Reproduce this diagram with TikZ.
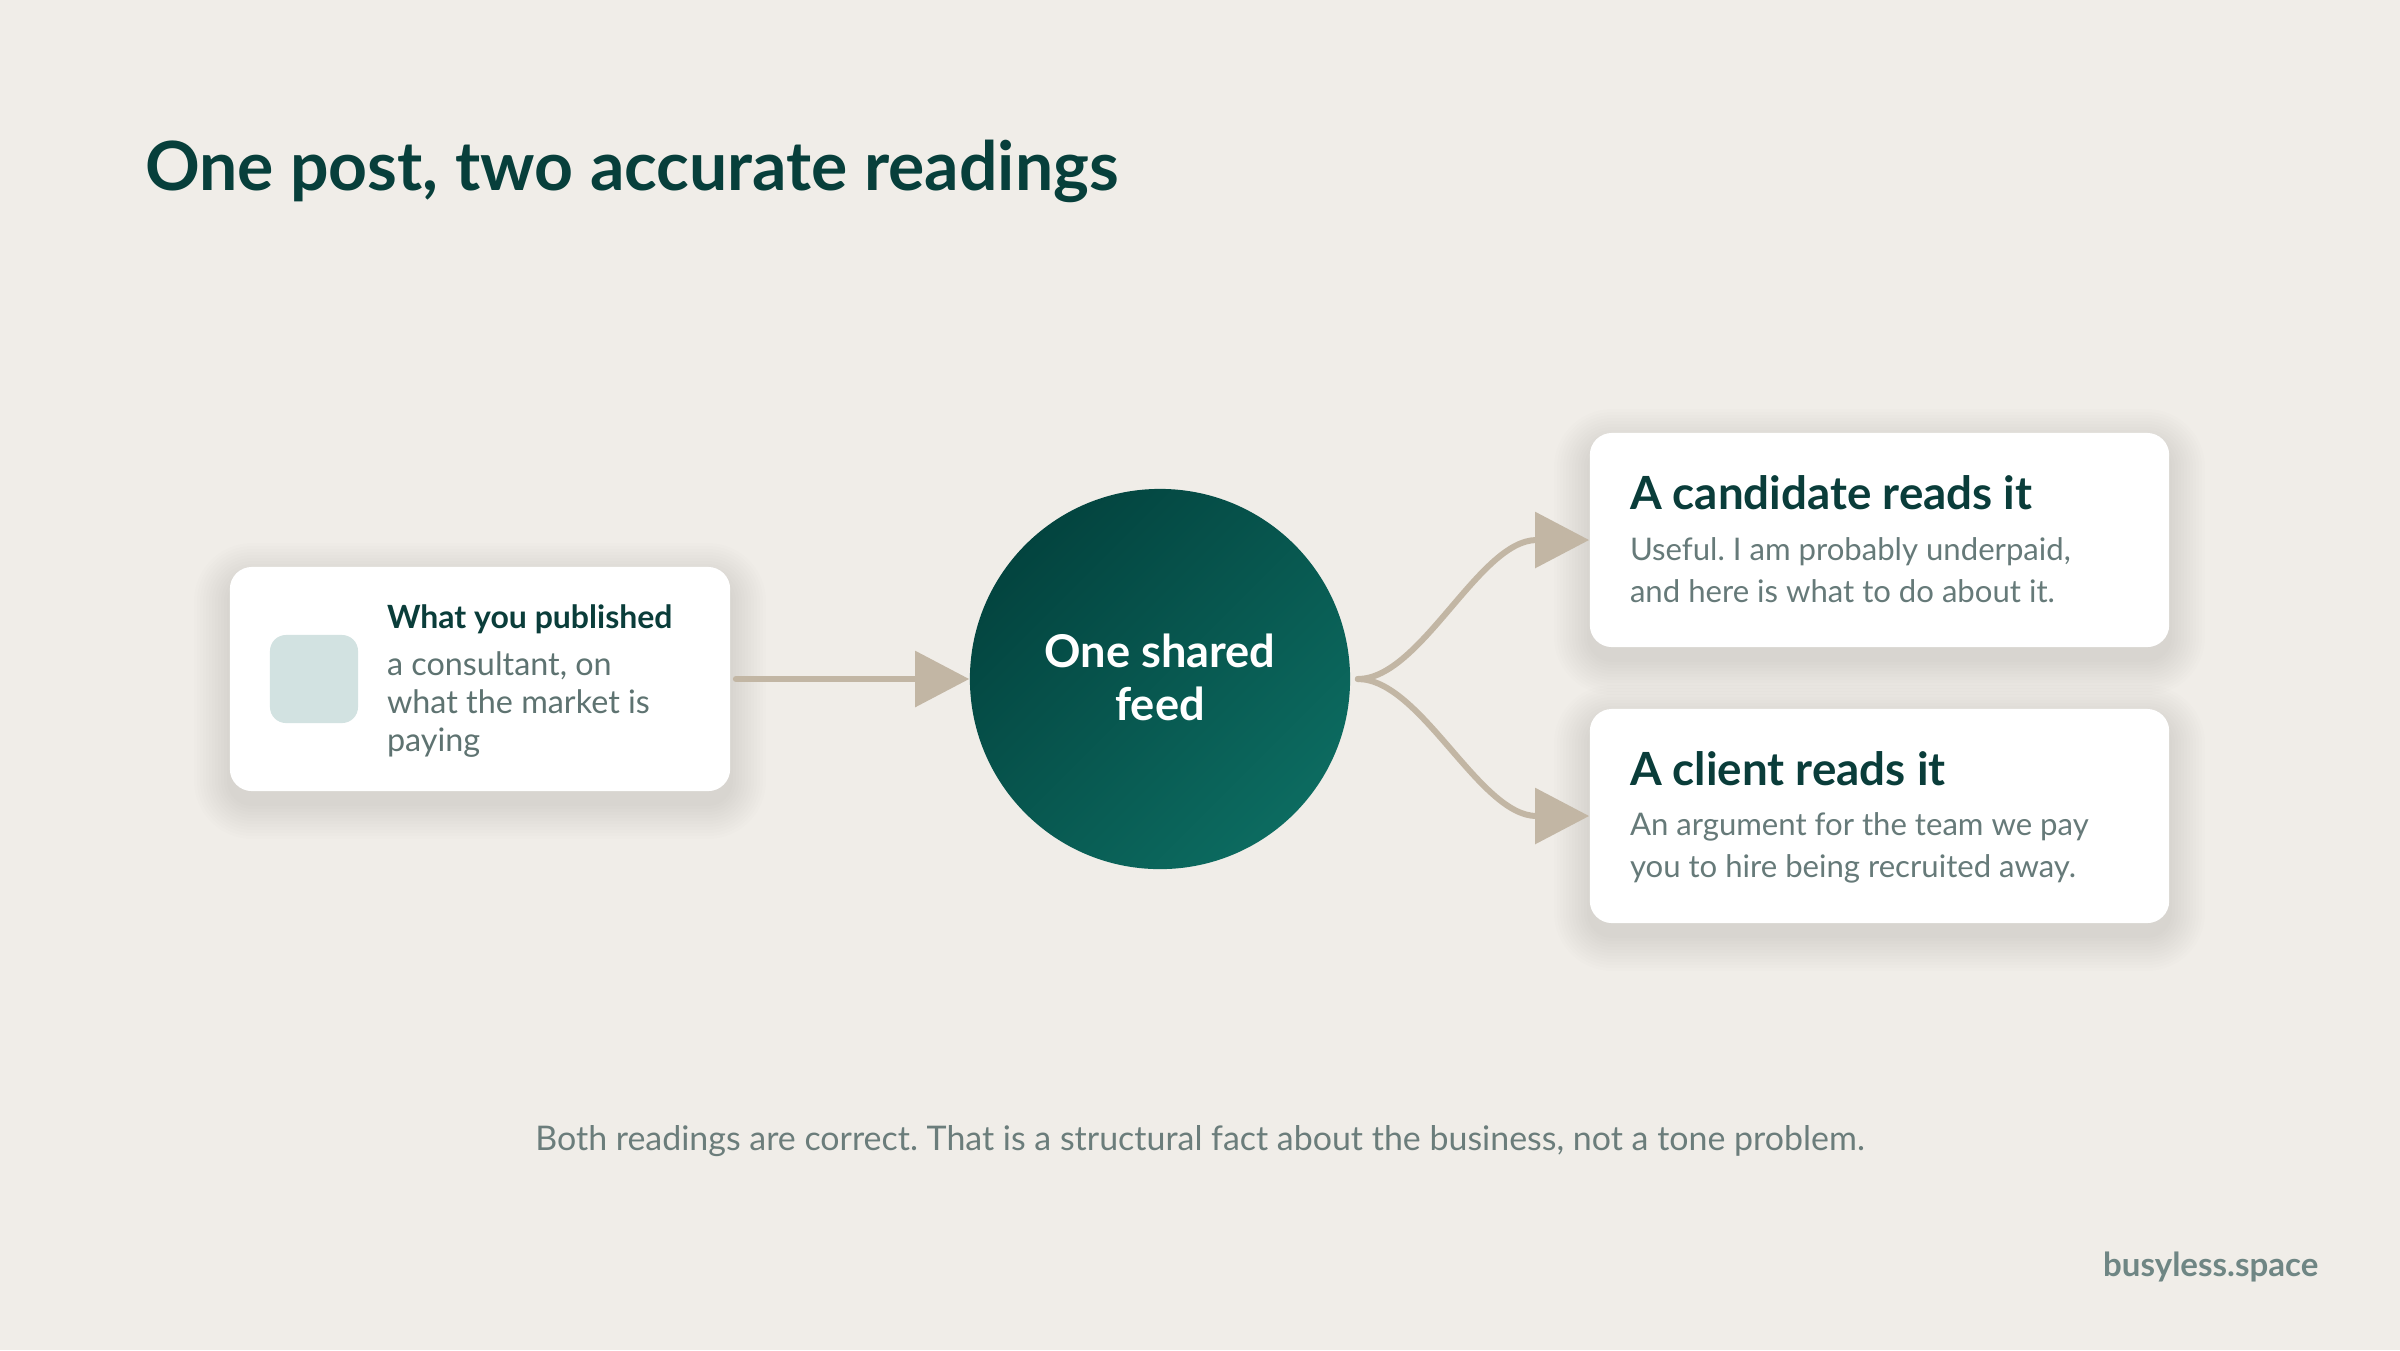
\documentclass[tikz,border=0pt]{standalone}
\usepackage{fontspec}
\setmainfont{Lato}
\usetikzlibrary{arrows.meta}
\frenchspacing
\definecolor{bg}{HTML}{F0EDE8}
\definecolor{titlecol}{HTML}{073F3B}
\definecolor{headcol}{HTML}{0A3D3A}
\definecolor{bodycol}{HTML}{5E7371}
\definecolor{rbodycol}{HTML}{667A79}
\definecolor{arrcol}{HTML}{C2B6A4}
\definecolor{sqcol}{HTML}{D2E2E1}
\definecolor{capcol}{HTML}{6B7D7B}
\definecolor{footcol}{HTML}{6F8684}
\definecolor{feeddark}{HTML}{03443F}
\definecolor{feedlight}{HTML}{0C6B60}
\newcommand\cardshadow[4]{%
  \foreach \i in {1,...,12}{%
    \pgfmathsetmacro\ee{\i*3}%
    \pgfmathsetmacro\rr{0.22+\i*0.03}%
    \fill[black, opacity=0.008, rounded corners=\rr cm] (#1-\ee, #2+12-\ee) rectangle (#3+\ee, #4+12+\ee);
  }}
\tikzset{
  card/.style={rectangle, rounded corners=0.22cm, fill=white, draw=none},
  txt/.style={inner sep=0pt, outer sep=0pt, anchor=base west},
  connector/.style={draw=arrcol, line width=0.06cm, line cap=round,
    -{Triangle[length=0.54cm, width=0.55cm]}},
}
\begin{document}
\begin{tikzpicture}[x=0.01cm, y=-0.01cm]
\useasboundingbox (0,0) rectangle (2400,1350);
\fill[bg] (0,0) rectangle (2400,1350);

% title
\node[txt, text=titlecol, font=\fontsize{19.3}{23}\selectfont\bfseries] (title) at (145,190) {One post, two accurate readings};

% shadows
\cardshadow{230}{567}{730}{791}
\cardshadow{1590}{433}{2169}{647}
\cardshadow{1590}{709}{2169}{923}

% left card
\node[card, minimum width=5cm, minimum height=2.24cm] (left) at (480,679) {};
\node[rectangle, rounded corners=0.16cm, fill=sqcol, minimum width=0.88cm, minimum height=0.88cm, inner sep=0pt] (sq) at (314,679) {};
\node[txt, text=headcol, font=\fontsize{9.1}{11}\selectfont\bfseries] (lhead) at (387,628) {What you published};
\node[txt, text=bodycol, font=\fontsize{9.2}{11}\selectfont] (lb1) at (387,675) {a consultant, on};
\node[txt, text=bodycol, font=\fontsize{9.2}{11}\selectfont] (lb2) at (387,713) {what the market is};
\node[txt, text=bodycol, font=\fontsize{9.2}{11}\selectfont] (lb3) at (387,751) {paying};

% circle
\node[circle, minimum size=3.8cm, inner sep=0pt, top color=feeddark, bottom color=feedlight, shading angle=45] (feed) at (1160,679) {};
\node[inner sep=0pt, anchor=base, text=white, font=\fontsize{12.85}{15}\selectfont\bfseries] (f1) at (1160,667) {One shared};
\node[inner sep=0pt, anchor=base, text=white, font=\fontsize{12.85}{15}\selectfont\bfseries] (f2) at (1160,720) {feed};

% right cards
\node[card, minimum width=5.79cm, minimum height=2.14cm] (cand) at (1879.5,540) {};
\node[txt, text=headcol, font=\fontsize{13}{15}\selectfont\bfseries] (ch) at (1630,509) {A candidate reads it};
\node[txt, text=rbodycol, font=\fontsize{8.85}{11}\selectfont] (cb1) at (1630,560) {Useful. I am probably underpaid,};
\node[txt, text=rbodycol, font=\fontsize{8.85}{11}\selectfont] (cb2) at (1630,602) {and here is what to do about it.};

\node[card, minimum width=5.79cm, minimum height=2.14cm] (client) at (1879.5,816) {};
\node[txt, text=headcol, font=\fontsize{13}{15}\selectfont\bfseries] (clh) at (1630,785) {A client reads it};
\node[txt, text=rbodycol, font=\fontsize{8.85}{11}\selectfont] (clb1) at (1630,835) {An argument for the team we pay};
\node[txt, text=rbodycol, font=\fontsize{8.85}{11}\selectfont] (clb2) at (1630,877) {you to hire being recruited away.};

% connectors
\draw[connector] ([xshift=0.05cm]left.east) -- (feed.west);
\draw[connector] ([xshift=0.07cm]feed.east) .. controls +(63,0) and +(-110,0) .. (cand.west);
\draw[connector] ([xshift=0.07cm]feed.east) .. controls +(63,0) and +(-110,0) .. (client.west);

% caption and footer
\node[inner sep=0pt, anchor=base, text=capcol, font=\fontsize{9.65}{12}\selectfont] (cap) at (1200,1150) {Both readings are correct. That is a structural fact about the business, not a tone problem.};
\node[inner sep=0pt, anchor=base east, text=footcol, font=\fontsize{9.4}{11}\selectfont\bfseries] (foot) at (2319,1276) {busyless.space};
\end{tikzpicture}
\end{document}
